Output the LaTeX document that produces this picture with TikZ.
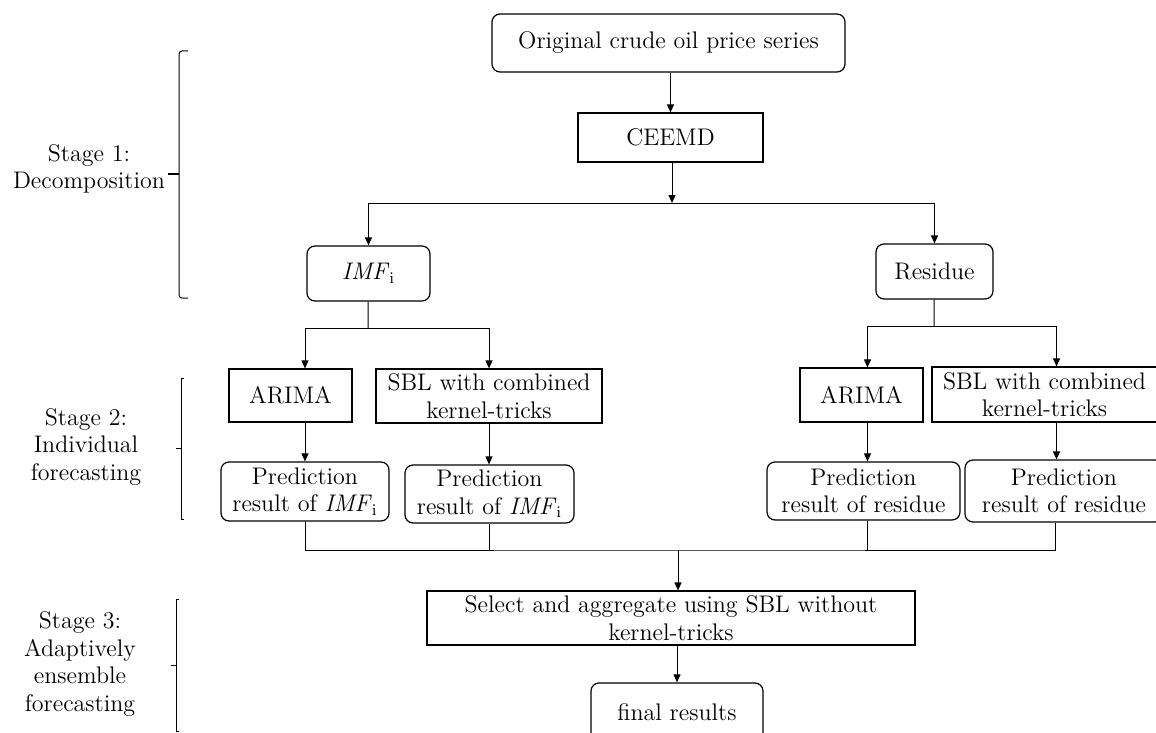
\documentclass[tikz,border=0pt]{standalone}
\usepackage{amsmath}
\usepackage{tikz}
\usetikzlibrary{arrows.meta}

\tikzset{
  rbox/.style={draw, rounded corners=4pt, line width=0.6pt, align=center, inner sep=0pt},
  sbox/.style={draw, line width=0.6pt, align=center, inner sep=0pt},
  arr/.style={-{Triangle[length=4pt,width=3.5pt]}, line width=0.5pt},
  link/.style={line width=0.5pt},
  stagetxt/.style={align=center, inner sep=0pt}
}
\newcommand{\imfi}{\textit{IMF}$_{\mathrm{i}}$}

\begin{document}
\begin{tikzpicture}[x=0.5pt, y=-0.5pt, every node/.style={font=\fontsize{12}{13.7}\selectfont}]
        \useasboundingbox (0,0) rectangle (1156,733);
        % stage 1
        \node[rbox, minimum width=176.5pt, minimum height=29pt] (orig) at (668.5,43) {Original crude oil price series};
        \node[sbox, minimum width=92.5pt, minimum height=24.5pt] (ceemd) at (670.5,137.5) {CEEMD};
        \node[rbox, minimum width=61.5pt, minimum height=27.5pt] (imf) at (368.5,273.5) {\imfi};
        \node[rbox, minimum width=58.5pt, minimum height=27.5pt] (res) at (934.5,271.5) {Residue};
        \coordinate (split) at (672,203);

        % stage 2
        \node[sbox, minimum width=61.5pt, minimum height=26.5pt] (arimaL) at (290.5,395.5) {ARIMA};
        \node[sbox, minimum width=113pt, minimum height=27pt] (sblL) at (489,396) {SBL with combined\\kernel-tricks};
        \node[rbox, minimum width=84pt, minimum height=29.5pt] (predL) at (305,491.5) {Prediction\\result of \imfi};
        \node[rbox, minimum width=84.5pt, minimum height=29pt] (predLL) at (489.5,494) {Prediction\\result of \imfi};
        \coordinate (splitL) at (368,328);

        \node[sbox, minimum width=61.5pt, minimum height=27pt] (arimaR) at (861.5,395) {ARIMA};
        \node[sbox, minimum width=112.5pt, minimum height=27.5pt] (sblR) at (1044.5,394.5) {SBL with combined\\kernel-tricks};
        \node[rbox, minimum width=96.5pt, minimum height=29pt] (predR) at (863.5,491) {Prediction\\result of residue};
        \node[rbox, minimum width=99pt, minimum height=31pt] (predRR) at (1064,491) {Prediction\\result of residue};
        \coordinate (splitR) at (934,326);

        % stage 3
        \coordinate (merge) at (678,550);
        \node[sbox, minimum width=244pt, minimum height=27pt] (sel) at (671,618) {Select and aggregate using SBL without\\kernel-tricks};
        \node[rbox, minimum width=86pt, minimum height=29pt] (final) at (677,712) {final results};

        % connectors
        \draw[arr] (orig.south -| ceemd) -- (ceemd);
        \draw[arr] (ceemd.south -| split) -- (split);
        \draw[arr] (split) -| (imf);
        \draw[arr] (split) -| (res);

        \draw[link] (imf) -- (splitL);
        \draw[arr] (splitL) -| (arimaL.north -| predL);
        \draw[arr] (splitL) -| (sblL);
        \draw[arr] (arimaL.south -| predL) -- (predL);
        \draw[arr] (sblL) -- (sblL |- predLL.north);

        \draw[link] (res) -- (splitR);
        \draw[arr] (splitR) -| ([xshift=3pt]arimaR.north);
        \draw[arr] (splitR) -| ([xshift=6pt]sblR.north);
        \draw[arr] ([xshift=3pt]arimaR.south) -- ([xshift=3pt]arimaR.south |- predR.north);
        \draw[arr] ([xshift=6pt]sblR.south) -- ([xshift=6pt]sblR.south |- predRR.north);

        \draw[link] (predL) |- (merge) -| ([xshift=-4.5pt]predRR.south);
        \draw[link] (predLL) -- (predLL |- merge);
        \draw[link] ([xshift=2pt]predR.south) -- ([xshift=2pt]predR.south |- merge);
        \draw[arr] (merge) -- (merge |- sel.north);
        \draw[arr] (sel.south -| final) -- (final);

        % stage labels and braces
        \node[stagetxt] (st1) at (89,169) {Stage 1:\\Decomposition};
        \node[stagetxt] (st2) at (86,447) {Stage 2:\\Individual\\forecasting};
        \node[stagetxt] (st3) at (80,664) {Stage 3:\\Adaptively\\ensemble\\forecasting};

        \draw[link] (188,51) -- (182,51) to[out=180,in=90] (179,54) -- (179,295) to[out=-90,in=180] (182,298) -- (188,298);
        \draw[line width=0.8pt] (179,174) -- (168,174);
        \draw[link] (184,378) -- (181,378) -- (181,519) -- (184,519);
        \draw[link] (181,448) -- (176,448);
        \draw[link] (179,599) -- (176,599) -- (176,731) -- (179,731);
        \draw[link] (176,665) -- (171,665);
    \end{tikzpicture}
\end{document}
